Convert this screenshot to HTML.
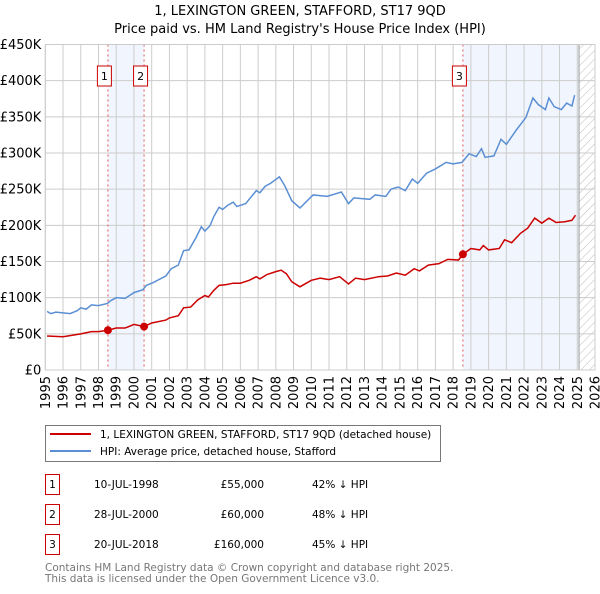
<!DOCTYPE html>
<html><head><meta charset="utf-8"><style>
body{margin:0;background:#fff;font-family:"DejaVu Sans","Liberation Sans",sans-serif;}
svg text{font-family:"DejaVu Sans","Liberation Sans",sans-serif;}
</style></head><body>
<svg id="c" width="600" height="590" xmlns="http://www.w3.org/2000/svg"></svg>
<script>
const hpiYears=[1995.1,1995.3,1995.6,1996,1996.4,1996.8,1997,1997.3,1997.6,1998,1998.5,1998.7,1999,1999.5,2000,2000.5,2000.7,2001.1,2001.8,2002.1,2002.5,2002.8,2003.1,2003.5,2003.8,2004,2004.3,2004.5,2004.8,2005,2005.3,2005.6,2005.8,2006.3,2006.9,2007.1,2007.4,2007.7,2008.2,2008.5,2008.9,2009.36,2010.1,2010.9,2011.7,2012.1,2012.4,2013.3,2013.6,2014.2,2014.5,2014.9,2015.3,2015.7,2016,2016.5,2017,2017.6,2018,2018.5,2018.9,2019.3,2019.6,2019.8,2020.3,2020.7,2021,2021.6,2022.1,2022.5,2022.8,2023.2,2023.4,2023.7,2024.1,2024.4,2024.7,2024.85];
const hpiValues=[81,78,80,79,78,82,86,84,90,89,92,96,100,99,107,111,117,121,130,140,145,165,166,183,198,192,200,212,225,222,228,232,226,230,248,245,254,258,267,255,234,224,242,240,246,230,238,236,242,240,250,253,248,264,258,272,278,287,285,287,299,295,306,294,296,319,312,333,349,376,367,360,376,364,360,369,365,380];
const priceYears=[1995.1,1996,1997,1997.6,1998,1998.53,1999,1999.5,2000,2000.57,2001,2001.8,2002,2002.5,2002.8,2003.2,2003.6,2004,2004.2,2004.5,2004.8,2005.2,2005.6,2006,2006.5,2006.9,2007.1,2007.5,2008,2008.3,2008.6,2008.9,2009.36,2010,2010.5,2011,2011.6,2012.1,2012.5,2013,2013.8,2014.3,2014.8,2015.3,2015.8,2016.1,2016.6,2017.2,2017.7,2018.3,2018.55,2019,2019.5,2019.7,2020,2020.6,2020.9,2021.3,2021.8,2022.2,2022.6,2023,2023.4,2023.8,2024.3,2024.7,2024.9];
const priceValues=[47,46,50,53,53,55,58,58,63,60,65,69,72,75,86,87,97,103,101,110,117,118,120,120,124,129,126,132,136,138,133,122,115,124,127,125,129,119,127,125,129,130,134,131,140,137,145,147,153,152,160,168,166,172,166,168,180,176,189,196,210,203,210,204,205,207,214];
const saleYears=[1998.53,2000.57,2018.55];
const saleValues=[55,60,160];
const saleLabels=["1","2","3"];
const yTicks=[0,50,100,150,200,250,300,350,400,450];
const yTickLabels=["£0","£50K","£100K","£150K","£200K","£250K","£300K","£350K","£400K","£450K"];
const xTicks=[1995,1996,1997,1998,1999,2000,2001,2002,2003,2004,2005,2006,2007,2008,2009,2010,2011,2012,2013,2014,2015,2016,2017,2018,2019,2020,2021,2022,2023,2024,2025,2026];
const saleDates=["10-JUL-1998","28-JUL-2000","20-JUL-2018"];
const salePrices=["£55,000","£60,000","£160,000"];
const saleDiffs=["42% ↓ HPI","48% ↓ HPI","45% ↓ HPI"];

const L=45.3,R=595,T=44.5,B=370;
const X=y=>L+(y-1995)*(R-L)/31;
const Y=v=>B-v*(B-T)/450;
const svg=document.getElementById('c');
const NS='http://www.w3.org/2000/svg';
function el(tag,attrs,parent){const e=document.createElementNS(NS,tag);for(const k in attrs)e.setAttribute(k,attrs[k]);(parent||svg).appendChild(e);return e;}
function txt(s,attrs,parent){const e=el('text',attrs,parent);e.textContent=s;return e;}

const defs=el('defs',{});
const pat=el('pattern',{id:'h',width:6,height:6,patternUnits:'userSpaceOnUse',patternTransform:'rotate(45)'},defs);
el('line',{x1:0,y1:0,x2:0,y2:6,stroke:'#bbb','stroke-width':1},pat);

let t=txt('1, LEXINGTON GREEN, STAFFORD, ST17 9QD',{x:300,y:15,'text-anchor':'middle','font-size':13,fill:'#000'});


t=txt("Price paid vs. HM Land Registry's House Price Index (HPI)",{x:300,y:33,'text-anchor':'middle','font-size':13,fill:'#000'});



let r=el('rect',{x:X(saleYears[0]),y:T,width:X(saleYears[1])-X(saleYears[0]),height:B-T,fill:'#eef3fc',opacity:0.8});


r=el('rect',{x:X(saleYears[2]),y:T,width:X(2025.1)-X(saleYears[2]),height:B-T,fill:'#eef3fc',opacity:0.8});


r=el('rect',{x:X(2025.1),y:T,width:R-X(2025.1),height:B-T,fill:'url(#h)'});



yTicks.forEach((v,i)=>{
  const g=el('line',{x1:L,x2:R,y1:Y(v),y2:Y(v),stroke:'#ccc','stroke-width':1});
  
  
  const tl=txt(yTickLabels[i],{x:L-4,y:Y(v)+4.5,'text-anchor':'end','font-size':13,fill:'#000'});
  
  
});
xTicks.forEach(y=>{
  const g=el('line',{x1:X(y),x2:X(y),y1:T,y2:B,stroke:'#ccc','stroke-width':1});
  
  
  const tl=txt(String(y),{x:0,y:0,'text-anchor':'end','font-size':13,fill:'#000',transform:`translate(${X(y)+4.5},${B+6}) rotate(-90)`});
  
  
});
let ln=el('line',{x1:X(2025.1),x2:X(2025.1),y1:T,y2:B,stroke:'#999','stroke-width':1});



saleYears.forEach((y,i)=>{
  const v=el('line',{x1:X(y),x2:X(y),y1:T,y2:B,stroke:'#e05555','stroke-width':1,'stroke-dasharray':'2,3'});
  
  
});

const hp=el('polyline',{points:hpiYears.map((y,i)=>X(y)+','+Y(hpiValues[i])).join(' '),fill:'none',stroke:'#5b8fd4','stroke-width':1.5});


const pp=el('polyline',{points:priceYears.map((y,i)=>X(y)+','+Y(priceValues[i])).join(' '),fill:'none',stroke:'#cc0000','stroke-width':1.5});



saleYears.forEach((y,i)=>{
  const c=el('circle',{cx:X(y),cy:Y(saleValues[i]),r:4,fill:'#cc0000'});
  
  
  const bx=el('rect',{x:X(y)-10.5,y:66,width:14,height:20,fill:'#fff',stroke:'#cc0000','stroke-width':1});
  
  
  const lt=txt(saleLabels[i],{x:X(y)-3.5,y:80,'text-anchor':'middle','font-size':11,fill:'#000'});
  
  
});
let fr=el('rect',{x:L,y:T,width:R-L,height:B-T,fill:'none',stroke:'#ccc','stroke-width':1});



const lg=el('g',{});


el('rect',{x:45.5,y:425.5,width:395,height:36,fill:'#fff',stroke:'#777','stroke-width':1},lg);
let le=el('line',{x1:50,x2:91,y1:434,y2:434,stroke:'#cc0000','stroke-width':2},lg);


le=el('line',{x1:50,x2:91,y1:451,y2:451,stroke:'#5b8fd4','stroke-width':2},lg);


le=txt('1, LEXINGTON GREEN, STAFFORD, ST17 9QD (detached house)',{x:100,y:438,'font-size':10.5,fill:'#000'},lg);


le=txt('HPI: Average price, detached house, Stafford',{x:100,y:455,'font-size':10.5,fill:'#000'},lg);



saleLabels.forEach((s,i)=>{
  const yy=483+i*30;
  const g=el('g',{});
  
  
  el('rect',{x:45.5,y:yy-8.5,width:14,height:20,fill:'#fff',stroke:'#cc0000','stroke-width':1},g);
  txt(s,{x:52.5,y:yy+5,'text-anchor':'middle','font-size':10.5,fill:'#000'},g);
  txt(saleDates[i],{x:94,y:yy+5,'font-size':10.5,fill:'#000'},g);
  txt(salePrices[i],{x:264,y:yy+5,'text-anchor':'end','font-size':10.5,fill:'#000'},g);
  txt(saleDiffs[i],{x:312,y:yy+5,'font-size':10.5,fill:'#000'},g);
});
let f=txt('Contains HM Land Registry data © Crown copyright and database right 2025.',{x:45,y:571,'font-size':10.5,fill:'#777'});


f=txt('This data is licensed under the Open Government Licence v3.0.',{x:45,y:582,'font-size':10.5,fill:'#777'});


</script>
</body></html>
